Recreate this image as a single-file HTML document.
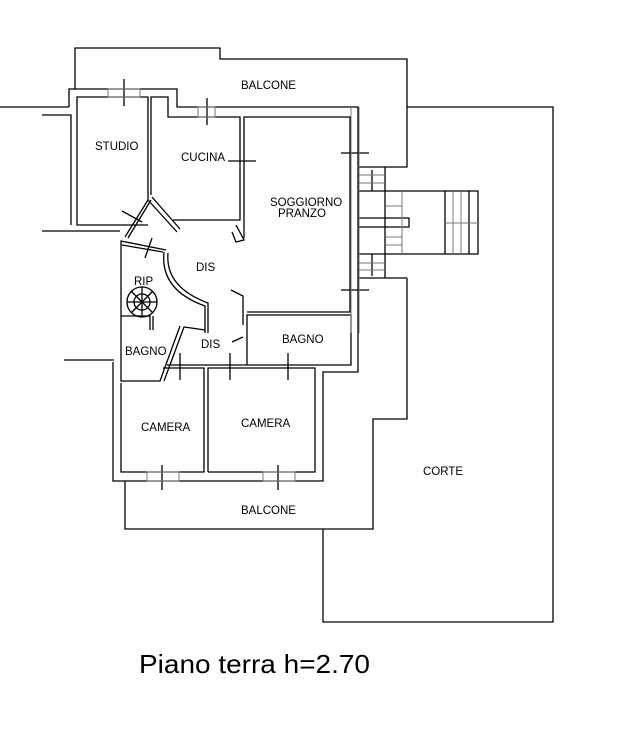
<!DOCTYPE html>
<html><head><meta charset="utf-8"><style>
html,body{margin:0;padding:0;background:#fff;}
svg{display:block;}
text{font-family:"Liberation Sans",sans-serif;fill:#000;}
</style></head><body>
<svg width="627" height="735" viewBox="0 0 627 735" xmlns="http://www.w3.org/2000/svg">
<g fill="none" stroke="#000" stroke-width="1.3">
<polyline points="75,89 75,48 220,48 220,59 407,59 407,167 359,167"/>
<polyline points="407,107 553,107 553,622 323,622 323,529"/>
<polyline points="407,278 407,419 373,419 373,529 125,529 125,481"/>
<polyline points="0,107 69,107"/>
<polyline points="42,115 71,115 71,225"/>
<polyline points="42,231 120,231"/>
<polyline points="64,360 114,360"/>
<polyline points="69,107 69,89 177,89 177,107 358,107 358,372 323,372 323,481 113,481 113,362"/>
<polyline points="148,200 148,97 77,97 77,225 148,225"/>
<polyline points="151,195 151,97 168,97 168,117 240,117 240,220 173,220"/>
<polyline points="244,238 244,117 350,117 350,312 247,312"/>
<polyline points="148,200 125,237"/>
<polyline points="151,200 128,238"/>
<polyline points="148,200 177,232"/>
<polyline points="152,197 180,229"/>
<polyline points="121,316 121,241 166,250"/>
<polyline points="122,245 163,252"/>
<path d="M164,252 Q160,290 205,306 L205,333"/>
<path d="M168,253 Q165,287 208,303 L208,333"/>
<polyline points="121,316 150,316 150,330"/>
<polyline points="153,316 153,330"/>
<polyline points="236,225 244,240 236,242 232,232"/>
<polyline points="231,290 243,296 243,325"/>
<polyline points="232,342 243,337"/>
<polyline points="121,316 121,381 160,381 180,326"/>
<polyline points="164,381 184,327 205,330"/>
<polyline points="167,365 247,365"/>
<polyline points="247,365 247,315 351,315 351,365 247,365"/>
<polyline points="121,383 121,472 204,472 204,368 163,368"/>
<polyline points="208,472 208,368 315,368 315,472 208,472"/>
<polyline points="359,191 478,191 478,254 359,254"/>
<line x1="385" y1="167" x2="385" y2="278"/>
<polyline points="359,278 407,278"/>
<line x1="372" y1="170" x2="372" y2="191"/>
<line x1="372" y1="254" x2="372" y2="276"/>
<line x1="445" y1="191" x2="445" y2="254"/>
<line x1="469" y1="191" x2="469" y2="254"/>
<polyline points="359,218 409,218 409,227 359,227"/>
<circle cx="142" cy="302" r="15"/>
<circle cx="142" cy="302" r="8"/>
<line x1="127" y1="302" x2="157" y2="302"/>
<line x1="142" y1="287" x2="142" y2="317"/>
<line x1="131" y1="291" x2="153" y2="313"/>
<line x1="153" y1="291" x2="131" y2="313"/>
<line x1="124" y1="79" x2="124" y2="106"/>
<line x1="207" y1="98" x2="207" y2="125"/>
<line x1="228" y1="161" x2="256" y2="161"/>
<line x1="341" y1="153" x2="369" y2="153"/>
<line x1="341" y1="290" x2="369" y2="290"/>
<line x1="162" y1="465" x2="162" y2="490"/>
<line x1="278" y1="465" x2="278" y2="490"/>
<line x1="180" y1="353" x2="180" y2="380"/>
<line x1="230" y1="353" x2="230" y2="380"/>
<line x1="288" y1="353" x2="288" y2="380"/>
<line x1="122" y1="211" x2="142" y2="222"/>
<line x1="152" y1="238" x2="145" y2="258"/>
</g>
<g fill="none" stroke="#777" stroke-width="1">
<line x1="351" y1="107" x2="351" y2="333"/>
<line x1="359" y1="107" x2="359" y2="333"/>
<line x1="402" y1="191" x2="402" y2="254"/>
<line x1="453" y1="191" x2="453" y2="254"/>
<line x1="461" y1="191" x2="461" y2="254"/>
<line x1="445" y1="223" x2="478" y2="223"/>
<line x1="359" y1="175" x2="385" y2="175"/>
<line x1="359" y1="183" x2="385" y2="183"/>
<line x1="359" y1="263" x2="385" y2="263"/>
<line x1="359" y1="270" x2="385" y2="270"/>
<line x1="385" y1="206" x2="402" y2="206"/>
<line x1="385" y1="237" x2="402" y2="237"/>
<line x1="385" y1="245" x2="402" y2="245"/>
<rect x="108" y="89" width="32" height="8"/>
<rect x="198" y="107" width="17" height="10"/>
<rect x="147" y="472" width="32" height="9"/>
<rect x="263" y="472" width="32" height="9"/>
</g>
<g font-size="11.5">
<text x="241" y="89">BALCONE</text>
<text x="95" y="150">STUDIO</text>
<text x="181" y="161">CUCINA</text>
<text x="270" y="206">SOGGIORNO</text>
<text x="278" y="217">PRANZO</text>
<text x="196" y="271">DIS</text>
<text x="134" y="285">RIP</text>
<text x="201" y="348">DIS</text>
<text x="125" y="355">BAGNO</text>
<text x="282" y="343">BAGNO</text>
<text x="141" y="431">CAMERA</text>
<text x="241" y="427">CAMERA</text>
<text x="423" y="475">CORTE</text>
<text x="241" y="514">BALCONE</text>
</g>
<text x="139" y="673" font-size="26" textLength="231" lengthAdjust="spacingAndGlyphs">Piano terra h=2.70</text>
</svg>
</body></html>
